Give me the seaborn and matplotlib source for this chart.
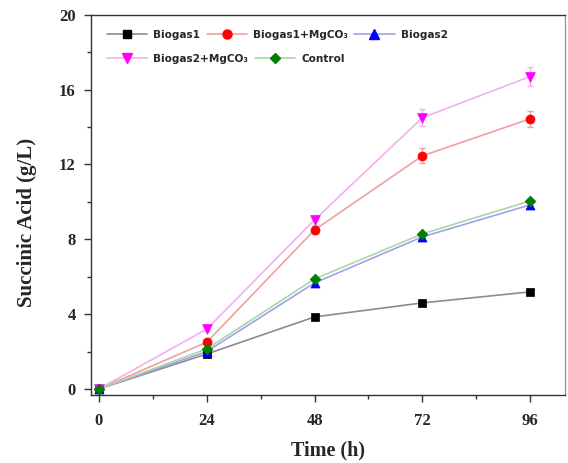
import numpy as np
import pandas as pd
import matplotlib
matplotlib.use("Agg")
import matplotlib.pyplot as plt
from matplotlib.lines import Line2D
from matplotlib.ticker import MultipleLocator
import seaborn as sns

time_h = [0, 24, 48, 72, 96]
series_names = ["Biogas1", "Biogas1+MgCO\u2083", "Biogas2", "Biogas2+MgCO\u2083", "Control"]
biogas1 = [0.0, 1.87, 3.85, 4.60, 5.19]
biogas1_mg = [0.0, 2.50, 8.50, 12.46, 14.44]
biogas2 = [0.0, 2.00, 5.67, 8.13, 9.84]
biogas2_mg = [0.0, 3.20, 9.04, 14.50, 16.70]
control = [0.0, 2.14, 5.88, 8.29, 10.05]
err_biogas1 = [0.0, 0.05, 0.08, 0.10, 0.12]
err_biogas1_mg = [0.0, 0.10, 0.20, 0.40, 0.43]
err_biogas2 = [0.0, 0.05, 0.10, 0.10, 0.12]
err_biogas2_mg = [0.0, 0.10, 0.25, 0.45, 0.50]
err_control = [0.0, 0.05, 0.10, 0.10, 0.12]

values = [biogas1, biogas1_mg, biogas2, biogas2_mg, control]
errors = [err_biogas1, err_biogas1_mg, err_biogas2, err_biogas2_mg, err_control]
marker_colors = ["#000000", "#ff0000", "#0000ff", "#ff00ff", "#008000"]
line_colors = ["#8c8c8c", "#f0a0a0", "#a0a0f0", "#f0b0f0", "#a8d8a8"]
markers = ["s", "o", "^", "v", "D"]
msizes = [5.5, 6.5, 6.5, 7, 5.5]

df = pd.DataFrame({
    "time": np.tile(time_h, len(series_names)),
    "value": np.concatenate(values),
    "err": np.concatenate(errors),
    "series": np.repeat(series_names, len(time_h)),
})

sns.set_style("ticks")
fig = plt.figure(figsize=(5.68, 4.63), dpi=100)
ax = fig.add_axes([0.160, 0.147, 0.835, 0.821])

sns.lineplot(data=df, x="time", y="value", hue="series", hue_order=series_names,
             palette=line_colors, linewidth=1.2, legend=False, ax=ax, errorbar=None)

for i, (name, mc, m, ms) in enumerate(zip(series_names, marker_colors, markers, msizes)):
    sub = df[df["series"] == name]
    ax.errorbar(sub["time"], sub["value"], yerr=sub["err"], fmt="none",
                ecolor=line_colors[i], elinewidth=1.0,
                capsize=2.5, capthick=1.0, zorder=3)
    sns.scatterplot(x=sub["time"], y=sub["value"], color=mc, marker=m,
                    s=ms**2, edgecolor=mc, linewidth=0.5, ax=ax, zorder=4, legend=False)

ax.set_xlim(-1.8, 103.8)
ax.set_ylim(-0.32, 20)
ax.xaxis.set_major_locator(MultipleLocator(24))
ax.xaxis.set_minor_locator(MultipleLocator(12))
ax.yaxis.set_major_locator(MultipleLocator(4))
ax.yaxis.set_minor_locator(MultipleLocator(2))
ax.tick_params(which="both", direction="out", top=False, right=False, color="#333333")
ax.tick_params(which="major", length=5, width=1)
ax.tick_params(which="minor", length=3, width=1)
ax.tick_params(axis="x", which="major", pad=8)
ax.tick_params(axis="y", which="major", pad=6)
for sp in ax.spines.values():
    sp.set_linewidth(1.0)
    sp.set_color("#333333")
ax.spines["right"].set_color("#999999")

serif = {"family": "Liberation Serif", "weight": "bold"}
for lab in ax.get_xticklabels() + ax.get_yticklabels():
    lab.set_fontfamily("Liberation Serif")
    lab.set_fontweight("bold")
    lab.set_fontsize(12)
ax.set_xlabel("Time (h)", fontdict=serif, fontsize=14.5, labelpad=8)
ax.set_ylabel("Succinic Acid (g/L)", fontdict=serif, fontsize=15)
ax.yaxis.set_label_coords(-0.114, 0.453)

handles = [Line2D([0], [0], color=lc, lw=1.2, marker=m, markersize=ms,
                  markerfacecolor=mc, markeredgecolor=mc)
           for lc, mc, m, ms in zip(line_colors, marker_colors, markers, msizes)]
prop = {"family": "DejaVu Sans", "weight": "bold", "size": 7.6}
common = dict(frameon=False, prop=prop, handlelength=3.8, handletextpad=0.6,
              columnspacing=0.6, borderpad=0, borderaxespad=0,
              loc="center left", bbox_transform=fig.transFigure)
leg1 = ax.legend(handles[:3], series_names[:3], ncol=3,
                 bbox_to_anchor=(107 / 568, 1 - 35 / 463), **common)
ax.add_artist(leg1)
leg2 = ax.legend(handles[3:], series_names[3:], ncol=2,
                 bbox_to_anchor=(107 / 568, 1 - 59 / 463), **common)

fig.savefig("out.png", dpi=100)
